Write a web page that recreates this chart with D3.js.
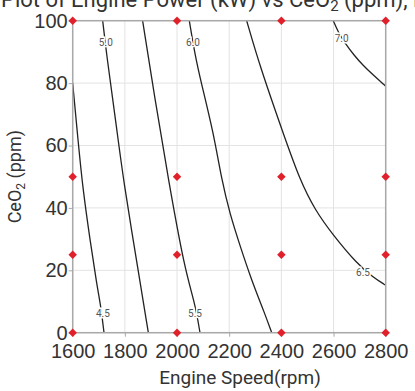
<!DOCTYPE html>
<html>
<head>
<meta charset="utf-8">
<script src="https://cdn.jsdelivr.net/npm/d3@7"></script>
<style>
  body { margin: 0; background: #fff; }
  svg { display: block; font-family: Roboto, "Noto Sans", sans-serif; }
</style>
</head>
<body>
<script>
// tick values
var speedTicks = [1600, 1800, 2000, 2200, 2400, 2600, 2800];
var ceoTicks = [0, 20, 40, 60, 80, 100];

// design points (red diamonds)
var designSpeed = [1600, 2000, 2400, 2800];
var designCeO2 = [0, 25, 50, 100];

// contour lines of engine power: [rpm, ppm]
var levels = ["4.5", "5.0", "5.5", "6.0", "6.5", "7.0"];
var line45 = [[1600, 80], [1620, 62], [1639, 46], [1666, 30], [1693, 15], [1707, 9], [1720, 0]];
var line50 = [[1715, 100], [1730, 89], [1768, 66], [1794, 49], [1851, 20], [1890, 0]];
var line55 = [[1868, 100], [1915, 75], [1967, 49], [2030, 20], [2069, 9.5], [2088, 0]];
var line60 = [[2047, 100], [2069, 89], [2090, 81], [2140, 64], [2171, 49], [2203, 38], [2241, 28], [2285, 17], [2337, 6], [2363, 0]];
var line65 = [[2267, 100], [2318, 85.3], [2407, 63.9], [2471, 48.9], [2529, 39.3], [2598, 31.3], [2689, 22.2], [2751, 17.8], [2800, 15.2]];
var line70 = [[2599, 100], [2617, 96.5], [2644, 92.8], [2680, 88.8], [2714, 85.6], [2752, 82.6], [2800, 79]];
// where each level's label sits: [rpm, ppm]
var labelPos = [[1716, 6.3], [1727, 92.9], [2069, 6.3], [2061, 92.9], [2713, 19.2], [2631, 94.4]];

var contours = [line45, line50, line55, line60, line65, line70];

var svgWidth = 415;
var svgHeight = 391;
var margin = {top: 20.7, right: 29.3, bottom: 58.3, left: 72.7};
var width = svgWidth - margin.left - margin.right;
var height = svgHeight - margin.top - margin.bottom;

var svg = d3.select("body").append("svg")
  .attr("width", svgWidth)
  .attr("height", svgHeight);

var chart = svg.append("g")
  .attr("transform", "translate(" + margin.left + "," + margin.top + ")");

var x = d3.scaleLinear().domain([1600, 2800]).range([0, width]);
var y = d3.scaleLinear().domain([0, 100]).range([height, 0]);

// grid
chart.append("g").selectAll("line").data(speedTicks).enter().append("line")
  .attr("x1", d => x(d)).attr("x2", d => x(d))
  .attr("y1", 0).attr("y2", height)
  .attr("stroke", "#e3e3e3").attr("stroke-width", 1);
chart.append("g").selectAll("line").data(ceoTicks).enter().append("line")
  .attr("y1", d => y(d)).attr("y2", d => y(d))
  .attr("x1", 0).attr("x2", width)
  .attr("stroke", "#e3e3e3").attr("stroke-width", 1);

// contours
var lineGen = d3.line()
  .x(d => x(d[0]))
  .y(d => y(d[1]))
  .curve(d3.curveBasis);

chart.append("g").selectAll("path").data(contours).enter().append("path")
  .attr("d", lineGen)
  .attr("fill", "none")
  .attr("stroke", "#222")
  .attr("stroke-width", 1.3);

chart.append("g").selectAll("text").data(levels).enter().append("text")
  .attr("x", (d, i) => x(labelPos[i][0]))
  .attr("y", (d, i) => y(labelPos[i][1]))
  .attr("dy", "0.35em")
  .attr("text-anchor", "middle")
  .style("font-size", "10px")
  .style("paint-order", "stroke")
  .attr("stroke", "#fff")
  .attr("stroke-width", 3)
  .attr("fill", "#555")
  .text(d => d);

// frame
chart.append("rect")
  .attr("width", width).attr("height", height)
  .attr("fill", "none").attr("stroke", "#a8a8a8").attr("stroke-width", 1.5);

// axes
var bottomAxis = d3.axisBottom(x).tickValues(speedTicks).tickSize(4).tickPadding(4).tickFormat(d3.format("d"));
var leftAxis = d3.axisLeft(y).tickValues(ceoTicks).tickSize(4).tickPadding(1);

var gx = chart.append("g").attr("transform", "translate(0," + height + ")").call(bottomAxis);
var gy = chart.append("g").call(leftAxis);
[gx, gy].forEach(function(g) {
  g.select(".domain").remove();
  g.selectAll(".tick line").attr("stroke", "#a8a8a8");
  g.selectAll(".tick text").attr("fill", "#333").style("font-size", "20px");
});
gx.selectAll(".tick text").attr("dy", "0.85em");

// design points
var pts = [];
designSpeed.forEach(function(s) {
  designCeO2.forEach(function(c) { pts.push([s, c]); });
});
chart.append("g").selectAll("path").data(pts).enter().append("path")
  .attr("d", d3.symbol(d3.symbolSquare, 36))
  .attr("transform", d => "translate(" + x(d[0]) + "," + y(d[1]) + ") rotate(45)")
  .attr("fill", "#e0202a");

// axis titles
svg.append("text")
  .attr("x", 240).attr("y", 384)
  .attr("text-anchor", "middle")
  .attr("fill", "#333")
  .style("font-size", "19px")
  .text("Engine Speed(rpm)");

var yt = svg.append("text")
  .attr("transform", "translate(21," + (margin.top + height / 2) + ") rotate(-90)")
  .attr("text-anchor", "middle")
  .attr("fill", "#333")
  .style("font-size", "18px");
yt.append("tspan").text("CeO");
yt.append("tspan").attr("dy", 4).style("font-size", "12px").text("2");
yt.append("tspan").attr("dy", -4).text(" (ppm)");

// title, wider than the page
var title = svg.append("text")
  .attr("x", 1).attr("y", 7)
  .attr("fill", "#333")
  .style("font-size", "22px");
title.append("tspan").text("Plot of Engine Power (kW) vs CeO");
title.append("tspan").attr("dy", 4).style("font-size", "15px").text("2");
title.append("tspan").attr("dy", -4).text(" (ppm), Engine Speed(rpm)");
</script>
</body>
</html>
